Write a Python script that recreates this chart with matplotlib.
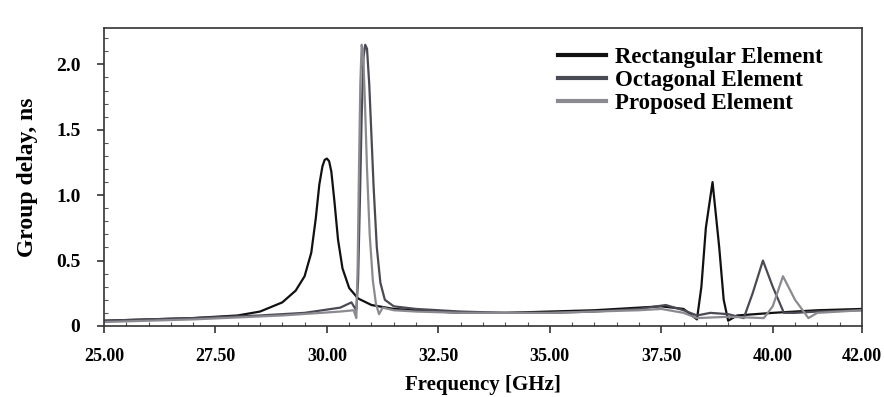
import numpy as np
import matplotlib.pyplot as plt
from matplotlib.ticker import MultipleLocator

plt.rcParams['font.family'] = ['Liberation Serif', 'DejaVu Serif']
plt.rcParams['font.weight'] = 'bold'

# group delay traces (GHz, ns)
rect_freq = [25.0, 26.0, 27.0, 28.0, 28.5, 29.0, 29.3, 29.5, 29.65, 29.75, 29.83, 29.9,
             29.95, 30.0, 30.05, 30.1, 30.17, 30.25, 30.35, 30.5, 30.7, 31.0, 31.5, 32.0,
             33.0, 34.0, 35.0, 36.0, 37.0, 37.5, 38.0, 38.3, 38.4, 38.5, 38.65, 38.8,
             38.9, 39.0, 39.2, 40.0, 41.0, 42.0]
rect_delay = [0.04, 0.05, 0.06, 0.08, 0.11, 0.18, 0.27, 0.38, 0.56, 0.82, 1.08, 1.22,
              1.27, 1.28, 1.26, 1.18, 0.95, 0.66, 0.44, 0.29, 0.21, 0.16, 0.13, 0.12,
              0.1, 0.1, 0.11, 0.12, 0.14, 0.15, 0.13, 0.05, 0.3, 0.75, 1.1, 0.6,
              0.2, 0.04, 0.08, 0.1, 0.12, 0.13]

oct_freq = [25.0, 27.0, 28.5, 29.5, 30.3, 30.55, 30.66, 30.7, 30.74, 30.78, 30.82, 30.86,
            30.9, 30.95, 31.0, 31.05, 31.12, 31.2, 31.3, 31.5, 32.0, 33.0, 34.0, 35.0,
            36.0, 37.0, 37.6, 38.0, 38.3, 38.6, 39.0, 39.35, 39.55, 39.78, 40.0, 40.25,
            40.5, 41.0, 42.0]
oct_delay = [0.04, 0.06, 0.08, 0.1, 0.14, 0.18, 0.12, 0.35, 0.95, 1.6, 2.05, 2.15,
             2.12, 1.85, 1.45, 1.05, 0.6, 0.33, 0.2, 0.15, 0.13, 0.11, 0.1, 0.1,
             0.11, 0.13, 0.16, 0.12, 0.08, 0.1, 0.09, 0.06, 0.25, 0.5, 0.3, 0.1,
             0.1, 0.11, 0.12]

prop_freq = [25.0, 27.0, 29.0, 30.3, 30.6, 30.66, 30.69, 30.72, 30.75, 30.78, 30.81, 30.85,
             30.9, 30.96, 31.03, 31.1, 31.17, 31.25, 31.5, 32.0, 33.0, 34.0, 35.0, 36.0,
             37.0, 37.5, 38.0, 38.3, 39.0, 39.8, 40.0, 40.23, 40.5, 40.8, 41.0, 42.0]
prop_delay = [0.03, 0.05, 0.08, 0.11, 0.12, 0.06, 0.45, 1.2, 1.85, 2.15, 2.1, 1.75,
              1.2, 0.7, 0.35, 0.17, 0.09, 0.14, 0.12, 0.11, 0.1, 0.1, 0.1, 0.11,
              0.12, 0.13, 0.1, 0.06, 0.07, 0.06, 0.15, 0.38, 0.2, 0.06, 0.1, 0.12]

x_ticks = [25.0, 27.5, 30.0, 32.5, 35.0, 37.5, 40.0, 42.0]
y_ticks = [0, 0.5, 1.0, 1.5, 2.0]

fig = plt.figure(figsize=(8.84, 3.97), dpi=100)
ax = fig.add_axes([0.1176, 0.179, 0.8574, 0.751])

ax.plot(rect_freq, rect_delay, color='#111111', lw=1.6, label='Rectangular Element')
ax.plot(oct_freq, oct_delay, color='#4a4a55', lw=1.6, label='Octagonal Element')
ax.plot(prop_freq, prop_delay, color='#8a8a90', lw=1.6, label='Proposed Element')

ax.set_xlim(25, 42)
ax.set_ylim(0, 2.28)
ax.set_xticks(x_ticks)
ax.set_xticklabels(['%.2f' % v for v in x_ticks])
ax.set_yticks(y_ticks)
ax.set_yticklabels(['0', '0.5', '1.0', '1.5', '2.0'])
ax.xaxis.set_minor_locator(MultipleLocator(0.5))
ax.yaxis.set_minor_locator(MultipleLocator(0.1))
ax.tick_params(which='major', direction='out', length=5, width=1.2, color='#333333')
ax.tick_params(axis='x', which='major', labelsize=13, pad=11)
ax.tick_params(axis='y', which='major', labelsize=14, pad=12)
ax.tick_params(which='minor', direction='in', length=3, width=0.8, color='#555555')
for s in ax.spines.values():
    s.set_color('#333333')
    s.set_linewidth(1.2)

ax.set_xlabel('Frequency [GHz]', fontsize=15, fontweight='bold', labelpad=7)
ax.set_ylabel('Group delay, ns', fontsize=17, fontweight='bold', labelpad=13)

leg = ax.legend(loc='upper left', bbox_to_anchor=(0.572, 1.005), frameon=False,
                fontsize=16.5, handlelength=2.1, handletextpad=0.4, labelspacing=0.08)
for line in leg.get_lines():
    line.set_linewidth(3)

fig.savefig('out.png', dpi=100)
